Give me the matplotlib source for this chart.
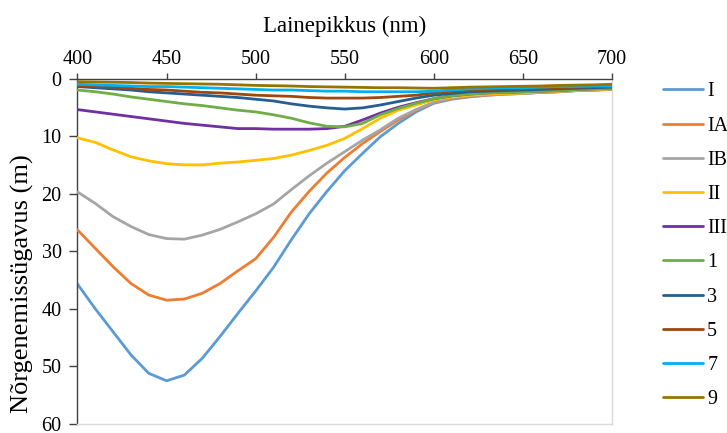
import numpy as np
import matplotlib.pyplot as plt

plt.rcParams['font.family'] = ['Liberation Serif', 'DejaVu Serif']
plt.rcParams['font.size'] = 14.5

wavelength = list(range(400, 701, 10))

depth_I = [35.7, 40.0, 44.0, 48.0, 51.2, 52.5, 51.5, 48.6, 44.8, 40.8, 36.9,
           32.8, 28.0, 23.5, 19.6, 16.0, 13.0, 10.1, 7.8, 5.8, 4.3,
           3.6, 3.2, 2.9, 2.7, 2.6, 2.4, 2.3, 2.1, 2.0, 1.9]
depth_IA = [26.3, 29.5, 32.7, 35.6, 37.6, 38.5, 38.3, 37.3, 35.6, 33.4, 31.3,
            27.6, 23.2, 19.6, 16.4, 13.7, 11.3, 9.2, 7.2, 5.5, 4.2,
            3.5, 3.1, 2.9, 2.7, 2.6, 2.4, 2.3, 2.1, 2.0, 1.9]
depth_IB = [19.7, 21.7, 24.0, 25.7, 27.1, 27.8, 27.9, 27.2, 26.2, 24.9, 23.5,
            21.8, 19.3, 16.9, 14.7, 12.7, 10.7, 8.9, 6.9, 5.4, 4.1,
            3.4, 3.0, 2.8, 2.7, 2.6, 2.4, 2.3, 2.1, 2.0, 1.8]
depth_II = [10.3, 11.1, 12.4, 13.6, 14.3, 14.8, 15.0, 15.0, 14.7, 14.5, 14.2,
            13.9, 13.3, 12.5, 11.6, 10.4, 8.7, 6.9, 5.5, 4.6, 3.7,
            3.2, 2.9, 2.7, 2.6, 2.5, 2.3, 2.2, 2.0, 1.9, 1.8]
depth_III = [5.4, 5.8, 6.2, 6.6, 7.0, 7.4, 7.8, 8.1, 8.4, 8.7, 8.7,
             8.8, 8.8, 8.8, 8.7, 8.3, 7.2, 6.0, 5.0, 4.2, 3.5,
             3.0, 2.7, 2.5, 2.4, 2.3, 2.2, 2.1, 1.9, 1.8, 1.7]
depth_1 = [2.0, 2.3, 2.7, 3.2, 3.6, 4.0, 4.4, 4.7, 5.1, 5.5, 5.8,
           6.3, 6.9, 7.7, 8.3, 8.4, 7.8, 6.3, 5.2, 4.3, 3.5,
           3.0, 2.7, 2.5, 2.4, 2.3, 2.2, 2.1, 1.9, 1.8, 1.7]
depth_3 = [1.4, 1.6, 1.8, 2.0, 2.3, 2.5, 2.7, 2.9, 3.1, 3.3, 3.6,
           3.9, 4.4, 4.8, 5.1, 5.3, 5.1, 4.6, 4.0, 3.4, 2.9,
           2.6, 2.3, 2.2, 2.1, 2.0, 1.9, 1.8, 1.7, 1.6, 1.5]
depth_5 = [1.2, 1.4, 1.5, 1.7, 1.9, 2.0, 2.2, 2.4, 2.5, 2.7, 2.9,
           3.0, 3.1, 3.3, 3.4, 3.4, 3.4, 3.3, 3.1, 2.9, 2.5,
           2.2, 2.0, 1.9, 1.8, 1.8, 1.7, 1.6, 1.5, 1.4, 1.4]
depth_7 = [1.0, 1.1, 1.2, 1.3, 1.4, 1.4, 1.5, 1.6, 1.7, 1.8, 1.9,
           2.0, 2.0, 2.1, 2.2, 2.2, 2.3, 2.3, 2.3, 2.3, 2.2,
           2.0, 1.8, 1.7, 1.6, 1.6, 1.5, 1.4, 1.4, 1.3, 1.3]
depth_9 = [0.55, 0.6, 0.65, 0.7, 0.8, 0.85, 0.9, 0.95, 1.0, 1.1, 1.2,
           1.25, 1.3, 1.4, 1.45, 1.5, 1.55, 1.6, 1.6, 1.65, 1.7,
           1.6, 1.5, 1.45, 1.4, 1.35, 1.3, 1.2, 1.15, 1.1, 1.0]

labels = ['I', 'IA', 'IB', 'II', 'III', '1', '3', '5', '7', '9']
series = [depth_I, depth_IA, depth_IB, depth_II, depth_III,
          depth_1, depth_3, depth_5, depth_7, depth_9]
colors = ['#5B9BD5', '#ED7D31', '#A5A5A5', '#FFC000', '#7030A0',
          '#70AD47', '#255E91', '#9E480E', '#00B0F0', '#997300']

W, H, DPI = 727, 433, 100
fig = plt.figure(figsize=(W / DPI, H / DPI), dpi=DPI)
ax = fig.add_axes([0.1066, 0.0208, 0.7353, 0.7979])

for i, (lab, d, c) in enumerate(zip(labels, series, colors)):
    ax.plot(wavelength, d, color=c, lw=2.0, label=lab, zorder=2 + i,
            solid_joinstyle='round', solid_capstyle='round')

ax.set_xlim(400, 700)
ax.set_ylim(60, 0)
ax.set_xticks(np.arange(400, 701, 50))
ax.set_yticks(np.arange(0, 61, 10))
ax.xaxis.tick_top()
ax.xaxis.set_label_position('top')
ax.tick_params(direction='out', width=1, color='#404040', labelsize=14.5)
ax.tick_params(axis='x', length=4, pad=2.5)
ax.tick_params(axis='y', length=5.5, pad=6)

ax.set_xlabel('Lainepikkus (nm)', fontsize=16.5)
ax.xaxis.label.set_verticalalignment('center')
ax.xaxis.set_label_coords(0.5, 1.152)
ax.set_ylabel('Nõrgenemissügavus (m)', fontsize=19)
ax.yaxis.label.set_verticalalignment('center')
ax.yaxis.set_label_coords(-0.1038, 0.405)

for side in ['top', 'left']:
    ax.spines[side].set_color('#404040')
    ax.spines[side].set_linewidth(1.0)
for side in ['right', 'bottom']:
    ax.spines[side].set_color('#D9D9D9')
    ax.spines[side].set_linewidth(1.0)


def add_legend(spacing, top):
    return fig.legend(loc='upper left', bbox_to_anchor=(0.898, top),
                      frameon=False, handlelength=2.0, handletextpad=0.2,
                      labelspacing=spacing, borderpad=0, fontsize=14.5)


def text_centers(leg):
    fig.canvas.draw()
    out = []
    for t in leg.get_texts():
        bb = t.get_window_extent()
        out.append((bb.y0 + bb.y1) / 2)
    return out


# legend rows: first entry ~92 px from the top, ~34 px apart
row_gap, first_row = 34.2, H - 92
spacing, top = 0.68, 0.83
leg = add_legend(spacing, top)
c = text_centers(leg)
spacing += (row_gap - (c[0] - c[-1]) / 9) / (14.5 * DPI / 72)
leg.remove()
leg = add_legend(spacing, top)
c = text_centers(leg)
top += (first_row - c[0]) / H
leg.remove()
leg = add_legend(spacing, top)

fig.savefig('out.png', dpi=DPI)
